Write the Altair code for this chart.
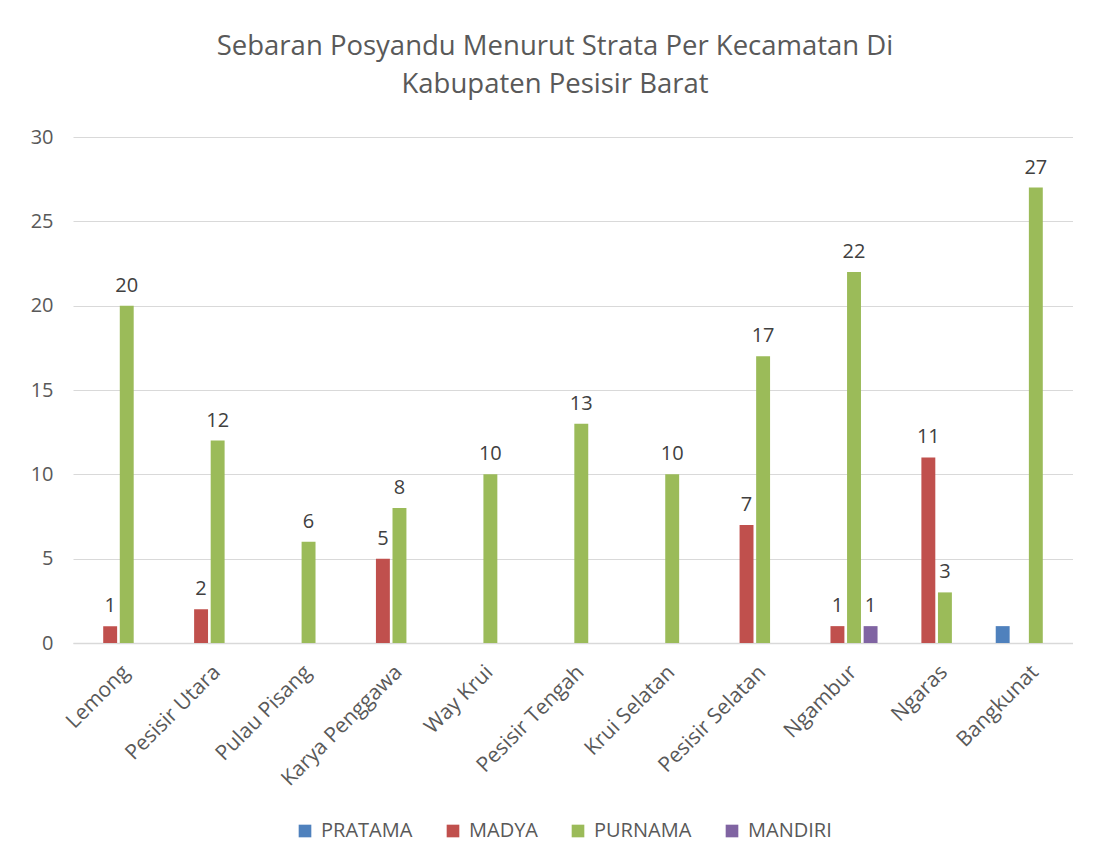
import altair as alt
import pandas as pd

categories = ["Lemong", "Pesisir Utara", "Pulau Pisang", "Karya Penggawa", "Way Krui",
              "Pesisir Tengah", "Krui Selatan", "Pesisir Selatan", "Ngambur", "Ngaras", "Bangkunat"]
series_order = ["PRATAMA", "MADYA", "PURNAMA", "MANDIRI"]
pratama = [0, 0, 0, 0, 0, 0, 0, 0, 0, 0, 1]
madya = [1, 2, 0, 5, 0, 0, 0, 7, 1, 11, 0]
purnama = [20, 12, 6, 8, 10, 13, 10, 17, 22, 3, 27]
mandiri = [0, 0, 0, 0, 0, 0, 0, 0, 1, 0, 0]
colors = ["#4F81BD", "#C0504D", "#9BBB59", "#8064A2"]
unlabeled = [("Bangkunat", "PRATAMA")]

rows = []
for s, vals in zip(series_order, [pratama, madya, purnama, mandiri]):
    for c, v in zip(categories, vals):
        rows.append({"kec": c, "strata": s, "value": v,
                     "show": v > 0 and (c, s) not in unlabeled})
df = pd.DataFrame(rows)

FONT = "Open Sans"
TXT = "#595959"

x_enc = alt.X("kec:N", sort=categories, title=None,
              scale=alt.Scale(paddingInner=0.3, paddingOuter=0.15),
              axis=alt.Axis(labelAngle=-45, labelFontSize=21, labelColor=TXT, labelFont=FONT,
                            domainColor="#d9d9d9", domainWidth=1.5, ticks=False, labelPadding=18,
                            grid=False))
xo_enc = alt.XOffset("strata:N", sort=series_order,
                     scale=alt.Scale(domain=series_order, paddingInner=0.16))
y_enc = alt.Y("value:Q", title=None,
              scale=alt.Scale(domain=[0, 30], nice=False),
              axis=alt.Axis(values=[0, 5, 10, 15, 20, 25, 30], labelFontSize=20, labelColor=TXT,
                            labelFont=FONT, domain=False, ticks=False, gridColor="#d9d9d9",
                            gridWidth=1.2, labelPadding=20, minExtent=60))

bars = alt.Chart(df).mark_bar().encode(
    x=x_enc, xOffset=xo_enc, y=y_enc,
    color=alt.Color("strata:N", sort=series_order,
                    scale=alt.Scale(domain=series_order, range=colors),
                    legend=alt.Legend(title=None, orient="none", direction="horizontal",
                                      legendX=222, legendY=684, symbolType="square",
                                      symbolSize=160, symbolStrokeWidth=0,
                                      labelFontSize=20, labelColor=TXT, labelFont=FONT,
                                      columnPadding=30, labelOffset=6))
)

labels = alt.Chart(df).transform_filter(alt.datum.show).mark_text(
    dy=-20, fontSize=20, font=FONT, color="#404040"
).encode(x=x_enc, xOffset=xo_enc, y=y_enc, text=alt.Text("value:Q"))

chart = alt.layer(bars, labels).properties(
    width=1000, height=506,
    padding={"left": 5, "top": 24, "right": 0, "bottom": 5},
    title=alt.Title(["Sebaran Posyandu Menurut Strata Per Kecamatan Di", "Kabupaten Pesisir Barat"],
                    fontSize=27.5, font=FONT, color=TXT, fontWeight="normal",
                    lineHeight=38, offset=29, anchor="middle", dx=-18)
).configure_view(stroke=None)

chart.save("out.html", embed_options={"renderer": "svg", "actions": False})
